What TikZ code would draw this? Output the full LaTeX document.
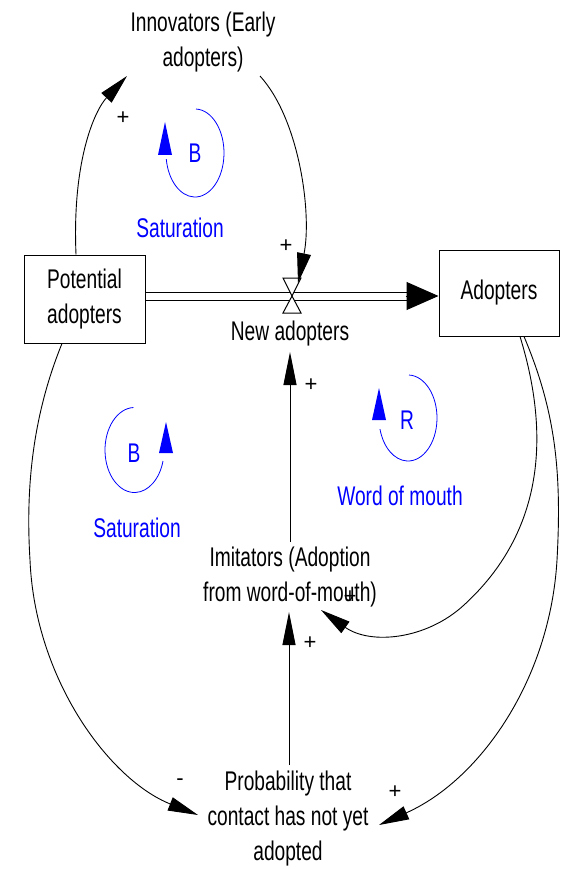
\documentclass[tikz,border=0pt]{standalone}
\usepackage{fontspec}
\setmainfont[FakeStretch=0.71]{Liberation Sans}
\newfontfamily\signfont{Liberation Sans}
\usetikzlibrary{arrows.meta,calc}
\definecolor{loopblue}{RGB}{0,0,255}
\tikzset{
  lbl/.style={font=\fontsize{27}{35}\selectfont, align=center, inner sep=0pt},
  stock/.style={draw, line width=1pt, align=center, font=\fontsize{27}{35}\selectfont},
  link/.style={line width=0.9pt, -{Triangle[length=30pt,width=14pt]}},
  vlink/.style={line width=0.9pt, -{Triangle[length=33pt,width=13pt]}},
  sign/.style={font=\signfont\fontsize{22}{22}\selectfont, inner sep=0pt},
  loopc/.style={loopblue, line width=0.8pt},
  looplbl/.style={loopblue, font=\fontsize{27}{35}\selectfont, inner sep=0pt},
}
\begin{document}
\begin{tikzpicture}[x=1pt,y=-1pt]
\useasboundingbox (0,0) rectangle (560,869);

% nodes
\node[lbl] (innov) at (203,42) {Innovators (Early\\adopters)};
\node[stock, minimum width=121pt, minimum height=88pt] (pot) at (84.5,299) {Potential\\adopters};
\node[stock, minimum width=120pt, minimum height=86pt] (adopt) at (499,293) {Adopters};
\coordinate (valve) at (292,296);
\node[lbl] (newad) at (290,334) {New adopters};
\node[lbl] (imit) at (290,577) {Imitators (Adoption\\from word-of-mouth)};
\node[lbl] (prob) at (288,819) {Probability that\\contact has not yet\\adopted};

% flow (double pipe)
\draw[double, double distance=7pt, line width=1pt] ([shift={(0,-3)}]pot.east) -- ([shift={(-32,3)}]adopt.west);
\draw[line width=1pt, -{Triangle[length=32pt,width=28pt]}] ([shift={(-33,3)}]adopt.west) -- ([shift={(0,3)}]adopt.west);
% valve
\draw[fill=white, line width=1pt] ([shift={(-9,-18)}]valve) -- ([shift={(9,-18)}]valve) -- (valve) -- cycle;
\draw[fill=white, line width=1pt] (valve) -- ([shift={(-9,17)}]valve) -- ([shift={(9,17)}]valve) -- cycle;

% causal links
\draw[link] ([shift={(-8.5,0)}]pot.north) .. controls (72,160) and (95,110) .. ([shift={(-76,34)}]innov.center);
\draw[link] ([shift={(57,34)}]innov.center) .. controls (300,120) and (312,215) .. ([shift={(6,-13)}]valve);
\draw[vlink] ([shift={(0,-35)}]imit.center) -- ([shift={(0,18)}]newad.center);
\draw[vlink] ([shift={(1,-54)}]prob.center) -- ([shift={(-1,35)}]imit.center);
\draw[link] ([shift={(21,0)}]adopt.south) .. controls (555,450) and (535,540) .. (464,605)
   .. controls (426,640) and (370,645) .. ([shift={(31,33)}]imit.center);
\draw[link] ([shift={(25,0)}]adopt.south) .. controls (555,410) and (562,470) .. (557,560)
   .. controls (550,680) and (480,780) .. ([shift={(91,6)}]prob.center);
\draw[link] ([shift={(-22.5,0)}]pot.south) .. controls (35,410) and (25,480) .. (30,560)
   .. controls (35,680) and (110,780) .. ([shift={(-90,-4)}]prob.center);

% polarity signs
\node[sign] (s1) at (123,118) {+};
\node[sign] (s2) at (286,246) {+};
\node[sign] (s3) at (311,385) {+};
\node[sign] (s4) at (310,643) {+};
\node[sign] (s5) at (350,597) {+};
\node[sign] (s6) at (395,792) {+};
\node[sign] (s7) at (180,782) {-};

% loop symbols
\draw[loopc] (195,153) ++(-88:29 and 44) arc[start angle=-88, end angle=172, x radius=29, y radius=44];
\fill[loopblue] (165,122) -- (172,155) -- (158,155) -- cycle;
\node[looplbl] (b1) at (195,153) {B};
\node[looplbl] (sat1) at (180,228) {Saturation};

\draw[loopc] (134.5,450) ++(268:29.5 and 42.5) arc[start angle=268, end angle=15, x radius=29.5, y radius=42.5];
\fill[loopblue] (166,422) -- (173,453) -- (159,453) -- cycle;
\node[looplbl] (b2) at (134,453) {B};
\node[looplbl] (sat2) at (137,528) {Saturation};

\draw[loopc] (408,418) ++(-88:29 and 43) arc[start angle=-88, end angle=165, x radius=29, y radius=43];
\fill[loopblue] (379,388) -- (386,420) -- (372,420) -- cycle;
\node[looplbl] (r1) at (407,420) {R};
\node[looplbl] (wom) at (400,496) {Word of mouth};
\end{tikzpicture}
\end{document}
